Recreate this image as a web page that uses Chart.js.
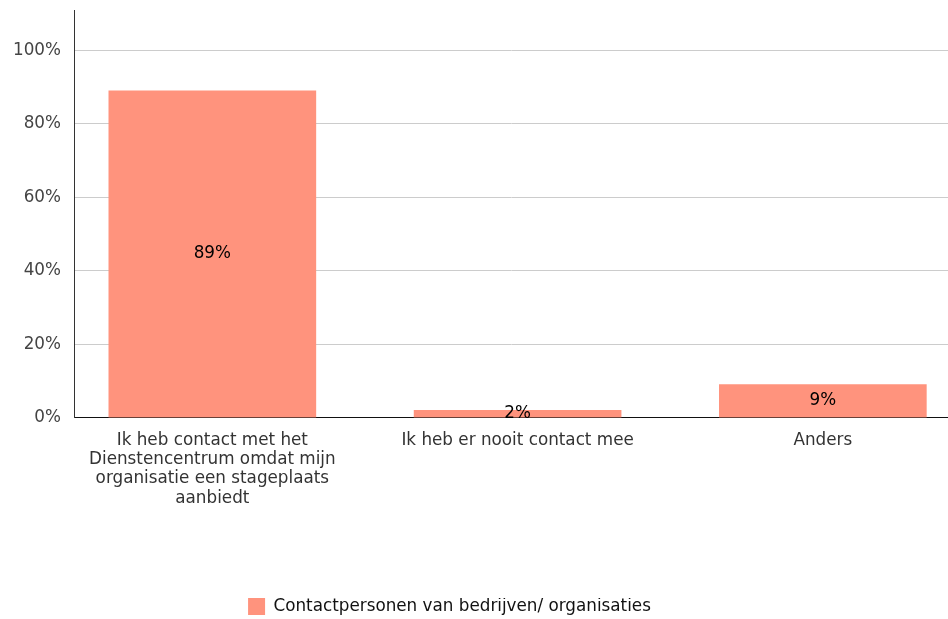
<!DOCTYPE html>
<html>
<head>
<meta charset="utf-8">
<script src="https://cdn.jsdelivr.net/npm/chart.js@4/dist/chart.umd.min.js"></script>
<style>
  html, body { margin: 0; padding: 0; background: #fff; }
  #wrap { width: 948px; height: 619px; position: relative; }
</style>
</head>
<body>
<div id="wrap"><canvas id="myChart"></canvas></div>
<script>
// answers and share of respondents (%)
var categories = [
    ["Ik heb contact met het", "Dienstencentrum omdat mijn", "organisatie een stageplaats", "aanbiedt"],
    "Ik heb er nooit contact mee",
    "Anders"
];
var values = [89, 2, 9];
var seriesName = "Contactpersonen van bedrijven/ organisaties";
var yTicks = [0, 20, 40, 60, 80, 100];

var barColor = "rgb(255,147,125)";
var font = "'DejaVu Sans', Verdana, sans-serif";
var fontSize = 16.8;

// writes the percentage in the middle of each bar
var valueLabels = {
    id: 'valueLabels',
    afterDatasetsDraw: function(chart) {
        var ctx = chart.ctx;
        var meta = chart.getDatasetMeta(0);
        ctx.save();
        ctx.font = fontSize + "px " + font;
        ctx.fillStyle = "#000";
        ctx.textAlign = "center";
        ctx.textBaseline = "middle";
        meta.data.forEach(function(bar, i) {
            var p = bar.getCenterPoint();
            ctx.fillText(values[i] + "%", p.x, p.y);
        });
        ctx.restore();
    }
};

// legend sits left of the canvas centre
var legendShift = {
    id: 'legendShift',
    afterLayout: function(chart) {
        chart.legend.left -= 24;
        chart.legend.right -= 24;
    }
};

const ctx = document.getElementById('myChart').getContext('2d');
const myChart = new Chart(ctx, {
    type: 'bar',
    data: {
        datasets: [{
            label: seriesName,
            data: values.map(function(v, i) { return {x: i, y: v}; }),
            backgroundColor: barColor,
            borderWidth: 0,
            barThickness: 207
        }]
    },
    options: {
        responsive: true,
        maintainAspectRatio: false,
        animation: false,
        layout: { padding: { top: 10, left: -1, right: 0, bottom: -6 } },
        scales: {
            x: {
                type: 'linear',
                offset: false,
                min: -0.45,
                max: 2.41,
                afterBuildTicks: function(scale) {
                    scale.ticks = categories.map(function(c, i) { return {value: i}; });
                },
                afterFit: function(scale) {
                    // empty band between the answer labels and the legend
                    scale.height += 77;
                },
                ticks: {
                    autoSkip: false,
                    maxRotation: 0,
                    padding: 13,
                    color: "#333",
                    font: { family: font, size: fontSize, lineHeight: 1.15 },
                    callback: function(v) { return categories[v]; }
                },
                grid: { display: false, drawTicks: false, offset: false },
                border: { color: "#111", width: 1 }
            },
            y: {
                min: 0,
                max: 111,
                afterBuildTicks: function(scale) {
                    scale.ticks = yTicks.map(function(v) { return {value: v}; });
                },
                afterFit: function(scale) {
                    // top tick is not at the edge, so no room is needed above it
                    scale.paddingTop = 0;
                },
                ticks: {
                    padding: 14,
                    color: "#444",
                    font: { family: font, size: fontSize },
                    callback: function(v) { return v + "%"; }
                },
                grid: { color: "#ccc", drawTicks: false },
                border: { color: "#333", width: 1 }
            }
        },
        plugins: {
            legend: {
                position: 'bottom',
                labels: {
                    boxWidth: 17,
                    boxHeight: 17,
                    padding: 0,
                    color: "#111",
                    font: { family: font, size: fontSize }
                }
            },
            tooltip: { enabled: false }
        }
    },
    plugins: [valueLabels, legendShift]
});
</script>
</body>
</html>
